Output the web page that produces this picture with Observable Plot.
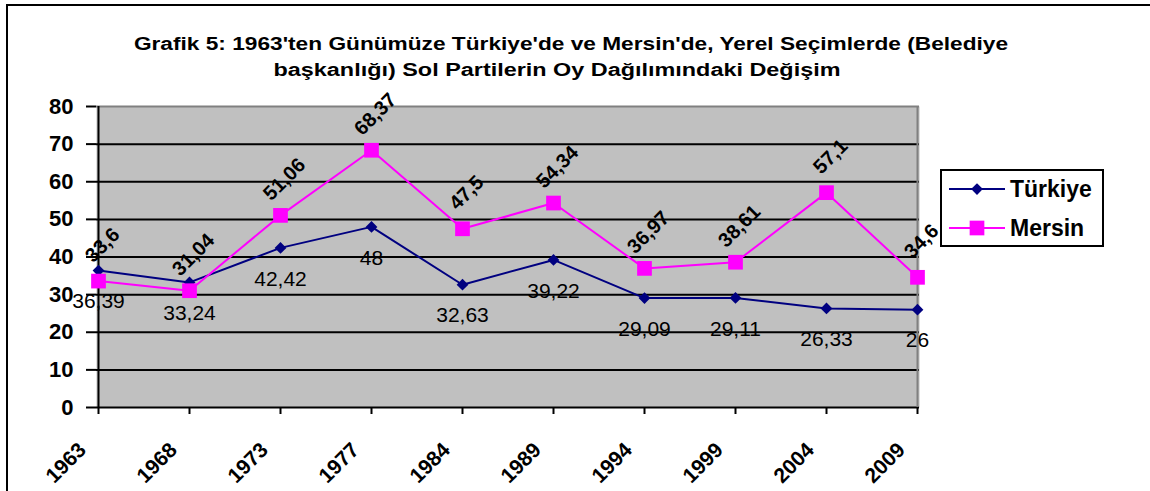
<!DOCTYPE html>
<html><head><meta charset="utf-8">
<script src="https://cdn.jsdelivr.net/npm/d3@7"></script>
<script src="https://cdn.jsdelivr.net/npm/@observablehq/plot@0.6"></script>
<style>
html,body{margin:0;padding:0;background:#fff;width:1150px;height:491px;overflow:hidden;font-family:"Liberation Sans",Arial,sans-serif;}
#wrap{position:relative;width:1150px;height:491px;overflow:hidden;}
#border{position:absolute;left:6px;top:4px;width:1300px;height:700px;border:2px solid #000;}
.tline{position:absolute;width:1000px;text-align:center;font-weight:bold;font-size:18px;line-height:20px;color:#000;white-space:nowrap;transform:scaleX(1.26);transform-origin:50% 50%;}
#chart{position:absolute;left:0;top:90px;}
#legend{position:absolute;left:940px;top:169px;width:164px;height:78px;box-sizing:border-box;border:2px solid #000;background:#fff;}
.row{position:absolute;left:7px;height:26px;display:flex;align-items:center;}
.row span{font-weight:bold;font-size:23px;margin-left:5px;}
</style></head>
<body>
<div id="wrap">
  <div id="border"></div>
  <div id="chart"></div>
  <div class="tline" style="left:71px;top:34px;">Grafik 5: 1963'ten Günümüze Türkiye'de ve Mersin'de, Yerel Seçimlerde (Belediye</div>
  <div class="tline" style="left:57px;top:60px;transform:scaleX(1.3);">başkanlığı) Sol Partilerin Oy Dağılımındaki Değişim</div>
  <div id="legend"></div>
</div>
<script>
const years = ["1963","1968","1973","1977","1984","1989","1994","1999","2004","2009"];
const turkiye = [36.39,33.24,42.42,48,32.63,39.22,29.09,29.11,26.33,26];
const mersin = [33.6,31.04,51.06,68.37,47.5,54.34,36.97,38.61,57.1,34.6];
const yTicks = [0,10,20,30,40,50,60,70,80];
const seriesNames = ["Türkiye","Mersin"];
const seriesColors = ["#000080","#FF00FF"];
const seriesSymbols = ["diamond2","square"];

const tr = years.map((y,i)=>({year:y, value:turkiye[i]}));
const me = years.map((y,i)=>({year:y, value:mersin[i]}));
const fmt = v => String(v).replace(".", ",");
const font = '"Liberation Sans",Arial,sans-serif';

const chart = Plot.plot({
  width:1150, height:401,
  marginTop:16, marginBottom:84, marginLeft:96, marginRight:231,
  style:{fontFamily:font, background:"transparent", overflow:"visible", color:"#000"},
  x:{type:"point", domain:years, padding:0, axis:null},
  y:{domain:[0,80], axis:null},
  marks:[
    Plot.frame({fill:"#C0C0C0", stroke:null}),
    Plot.ruleY(yTicks.filter(t=>t<80), {stroke:"#000", strokeWidth:2}),
    Plot.ruleY([80], {stroke:"#808080", strokeWidth:2}),
    Plot.ruleX([years[years.length-1]], {stroke:"#808080", strokeWidth:2}),
    Plot.ruleX([years[0]], {stroke:"#000", strokeWidth:2}),
    Plot.axisY({ticks:yTicks, tickSize:10, tickPadding:13, strokeWidth:2, fontSize:22, fontWeight:"bold", label:null, tickFormat:d=>String(d)}),
    Plot.axisX({tickSize:7, strokeWidth:2, tickFormat:()=>"", label:null}),
    Plot.text(years, {x:d=>d, text:d=>d, frameAnchor:"bottom", rotate:-45, textAnchor:"end", lineAnchor:"middle", dx:-16, dy:39, fontSize:21, fontWeight:"bold"}),
    Plot.line(tr, {x:"year", y:"value", stroke:seriesColors[0], strokeWidth:2}),
    Plot.dot(tr, {x:"year", y:"value", symbol:seriesSymbols[0], r:5.3, fill:seriesColors[0], stroke:null}),
    Plot.line(me, {x:"year", y:"value", stroke:seriesColors[1], strokeWidth:2}),
    Plot.dot(me, {x:"year", y:"value", symbol:seriesSymbols[1], r:8.3, fill:seriesColors[1], stroke:null}),
    Plot.text(tr, {x:"year", y:"value", text:d=>fmt(d.value), dy:31, fontSize:21, lineAnchor:"middle"}),
    Plot.text(me, {x:"year", y:"value", text:d=>fmt(d.value), dy:-36, dx:4, rotate:-45, fontSize:20, fontWeight:"bold", lineAnchor:"middle"})
  ]
});
document.getElementById("chart").appendChild(chart);

// legend
const legend = document.getElementById("legend");
seriesNames.forEach((name,i)=>{
  const row = document.createElement("div");
  row.className = "row";
  row.style.top = (i===0 ? 5 : 44) + "px";
  const sym = d3.symbol(i===0 ? d3.symbolDiamond2 : d3.symbolSquare, i===0 ? 88 : 216)();
  row.innerHTML = `<svg width="56" height="26"><line x1="0" x2="56" y1="13" y2="13" stroke="${seriesColors[i]}" stroke-width="2"/><path transform="translate(28,13)" d="${sym}" fill="${seriesColors[i]}"/></svg><span>${name}</span>`;
  legend.appendChild(row);
});
</script>
</body></html>
